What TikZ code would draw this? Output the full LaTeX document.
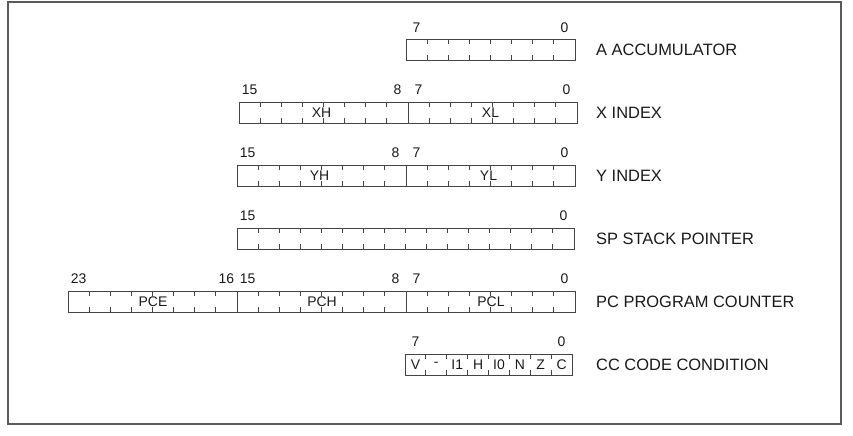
\documentclass[tikz,border=0pt]{standalone}
\usepackage{fontspec}
\setmainfont{Liberation Sans}
\definecolor{lc}{HTML}{444444}
\definecolor{fc}{HTML}{5A5A5A}
\definecolor{tc}{HTML}{1A1A1A}
\tikzset{
  regbox/.style={draw=lc, line width=0.9bp, inner sep=0pt, outer sep=0pt, minimum height=21bp},
  tickline/.style={draw=lc, line width=0.9bp},
  bitnum/.style={text=tc, inner sep=0pt, font=\fontsize{14}{16}\selectfont},
  cellname/.style={text=tc, inner sep=0pt, font=\fontsize{14}{16}\selectfont},
  regname/.style={text=tc, inner sep=0pt, anchor=west, font=\fontsize{16.5}{19}\selectfont},
  framebox/.style={draw=fc, line width=1.5bp}
}
% #1 name, #2 left, #3 right, #4 top, #5 number of cells
\newcommand\regdraw[5]{%
  \node[regbox, anchor=north west, minimum width={(#3-#2)*1bp}] (#1) at (#2,#4) {};
  \pgfmathsetmacro\cw{(#3-#2)/#5}%
  \pgfmathtruncatemacro\nm{#5-1}%
  \foreach \i in {1,...,\nm} {
    \draw[tickline] (#2+\i*\cw,#4) -- ++(0,5);
    \draw[tickline] (#2+\i*\cw,#4+21) -- ++(0,-5);
  }%
}
\begin{document}
\begin{tikzpicture}[x=1bp,y=-1bp]
\useasboundingbox (0,0) rectangle (853,436);
\draw[framebox] (8,2) rectangle (841,424);

% A
\regdraw{A}{406}{575}{39}{8}
\node[bitnum] (a7) at (406+10.56,28) {7};
\node[bitnum] (a0) at (575-10.56,28) {0};
\node[regname] (an) at (596,50) {A ACCUMULATOR};

% X
\regdraw{X}{239}{577}{102}{16}
\draw[tickline] (408,102) -- (408,123);
\node[bitnum] (x15) at (239+10.56,90) {15};
\node[bitnum] (x8) at (408-10.56,90) {8};
\node[bitnum] (x7) at (408+10.56,90) {7};
\node[bitnum] (x0) at (577-10.56,90) {0};
\node[cellname] (xh) at (321.5,112.5) {XH};
\node[cellname] (xl) at (490.5,112.5) {XL};
\node[regname] (xn) at (596,113) {X INDEX};

% Y
\regdraw{Y}{237}{575}{165}{16}
\draw[tickline] (406,165) -- (406,186);
\node[bitnum] (y15) at (237+10.56,153) {15};
\node[bitnum] (y8) at (406-10.56,153) {8};
\node[bitnum] (y7) at (406+10.56,153) {7};
\node[bitnum] (y0) at (575-10.56,153) {0};
\node[cellname] (yh) at (319.5,175.5) {YH};
\node[cellname] (yl) at (488.5,175.5) {YL};
\node[regname] (yn) at (596,176) {Y INDEX};

% SP
\regdraw{SP}{237}{574}{228}{16}
\node[bitnum] (s15) at (237+10.53,216) {15};
\node[bitnum] (s0) at (574-10.53,216) {0};
\node[regname] (sn) at (596,239) {SP STACK POINTER};

% PC
\regdraw{PC}{68}{575}{291}{24}
\draw[tickline] (237,291) -- (237,312);
\draw[tickline] (406,291) -- (406,312);
\node[bitnum] (p23) at (68+10.56,279) {23};
\node[bitnum] (p16) at (237-10.56,279) {16};
\node[bitnum] (p15) at (237+10.56,279) {15};
\node[bitnum] (p8) at (406-10.56,279) {8};
\node[bitnum] (p7) at (406+10.56,279) {7};
\node[bitnum] (p0) at (575-10.56,279) {0};
\node[cellname] (pce) at (153,301.5) {PCE};
\node[cellname] (pch) at (322,301.5) {PCH};
\node[cellname] (pcl) at (491,301.5) {PCL};
\node[regname] (pn) at (596,302) {PC PROGRAM COUNTER};

% CC
\regdraw{CC}{405}{572}{354}{8}
\node[bitnum] (c7) at (405+10.44,342) {7};
\node[bitnum] (c0) at (572-10.44,342) {0};
\foreach \t [count=\k from 0] in {V,-,I1,H,I0,N,Z,C} {
  \node[cellname] (cc\k) at (405+10.44+\k*20.875,364.5) {\t};
}
\node[regname] (cn) at (596,365) {CC CODE CONDITION};
\end{tikzpicture}
\end{document}
